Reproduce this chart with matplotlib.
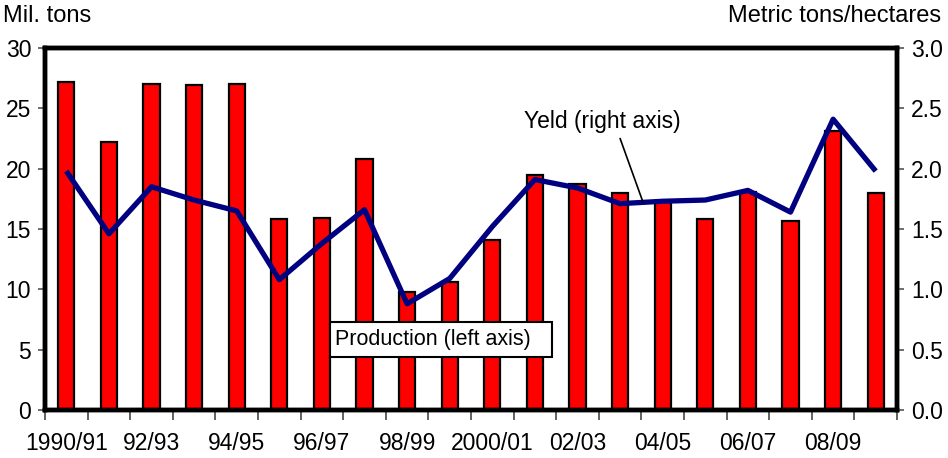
import matplotlib
matplotlib.use("Agg")
import matplotlib.pyplot as plt
from matplotlib.patches import Rectangle
import numpy as np

# Marketing years
seasons = ["1990/91", "91/92", "92/93", "93/94", "94/95", "95/96", "96/97",
           "97/98", "98/99", "99/00", "2000/01", "01/02", "02/03", "03/04",
           "04/05", "05/06", "06/07", "07/08", "08/09", "09/10"]
tick_labels = ["1990/91", "92/93", "94/95", "96/97", "98/99",
               "2000/01", "02/03", "04/05", "06/07", "08/09"]

# Production, million tons (left axis)
production = [27.2, 22.2, 27.0, 26.9, 27.0, 15.8, 15.9, 20.8, 9.8, 10.6,
              14.1, 19.5, 18.7, 18.0, 17.3, 15.8, 18.1, 15.7, 23.1, 18.0]
# Yield, metric tons per hectare (right axis)
yield_t_ha = [1.98, 1.46, 1.85, 1.74, 1.65, 1.08, 1.38, 1.66, 0.88, 1.09,
              1.52, 1.91, 1.84, 1.71, 1.73, 1.74, 1.82, 1.64, 2.41, 1.98]

plt.rcParams['font.family'] = ['Liberation Sans', 'DejaVu Sans']
FS = 16.5
W, H = 948, 458

fig = plt.figure(figsize=(W / 100, H / 100), dpi=100)
ax = fig.add_axes([45 / W, 1 - 410 / H, (897 - 45) / W, (410 - 48) / H])

x = np.arange(len(seasons))
ax.bar(x, production, width=0.38, color='#ff0000', edgecolor='black',
       linewidth=1.6, zorder=2)
ax.set_xlim(-0.5, len(seasons) - 0.5)
ax.set_ylim(0, 30)
ax.set_yticks(np.arange(0, 31, 5))
ax.tick_params(axis='y', direction='out', length=5, width=1.2,
               labelsize=FS, pad=5, color='#555555')

# category boundary ticks, labels at every other season
ax.set_xticks(np.arange(-0.5, len(seasons), 1))
ax.set_xticklabels([])
ax.tick_params(axis='x', which='major', direction='out', length=7,
               width=1.3, color='#555555')
ax.set_xticks(x[::2], minor=True)
ax.set_xticklabels(tick_labels, minor=True)
ax.tick_params(axis='x', which='minor', length=0, labelsize=FS, pad=16)

for sp in ax.spines.values():
    sp.set_linewidth(3.2)
    sp.set_color('black')

# "Production" label box
ax.add_patch(Rectangle((6.19, 4.39), 5.21, 2.90, facecolor='white',
                       edgecolor='black', linewidth=1.5, zorder=5))
ax.text(6.31, 5.84, "Production (left axis)", fontsize=15.5, ha='left',
        va='center', zorder=6)

ax2 = ax.twinx()
ax2.plot(x, yield_t_ha, color='#000080', lw=3.8, zorder=3,
         solid_joinstyle='round', solid_capstyle='butt')
ax2.set_ylim(0, 3)
ax2.set_yticks(np.arange(0, 3.01, 0.5))
ax2.set_yticklabels([f"{v:.1f}" for v in np.arange(0, 3.01, 0.5)])
ax2.tick_params(axis='y', direction='out', length=5, width=1.2,
                labelsize=FS, pad=5, color='#555555')
for sp in ax2.spines.values():
    sp.set_linewidth(3.2)
    sp.set_color('black')

ax2.text(10.75, 2.39, "Yeld (right axis)", fontsize=FS, ha='left',
         va='center')
ax2.annotate("", xy=(13.54, 1.72), xytext=(13.0, 2.25),
             arrowprops=dict(arrowstyle='-', lw=1.2, color='black',
                             shrinkA=0, shrinkB=0))

fig.text(3 / W, 1 - 16 / H, "Mil. tons", fontsize=17, ha='left',
         va='center')
fig.text(941 / W, 1 - 16 / H, "Metric tons/hectares", fontsize=17,
         ha='right', va='center')

fig.savefig("out.png", dpi=100, facecolor='white')
